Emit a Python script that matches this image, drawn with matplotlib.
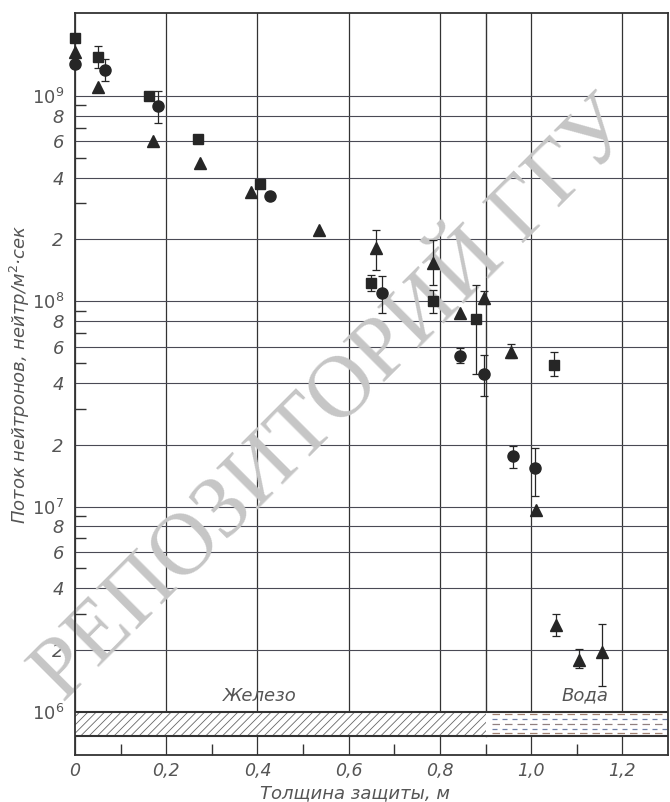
import numpy as np
import matplotlib
matplotlib.use('Agg')
import matplotlib.pyplot as plt
from matplotlib.patches import Rectangle

plt.rcParams['font.family'] = ['DejaVu Sans']
plt.rcParams['mathtext.fontset'] = 'dejavusans'
plt.rcParams['hatch.linewidth'] = 0.6

# ---------------- data ----------------
sq_x = [0.0, 0.05, 0.163, 0.27, 0.405, 0.648, 0.785, 0.878, 1.05]
sq_y = [1.92e9, 1.55e9, 1.0e9, 6.2e8, 3.73e8, 1.23e8, 1.0e8, 8.2e7, 4.9e7]
sq_lo = [np.nan, 1.37e9, np.nan, np.nan, np.nan, 1.12e8, 8.8e7, 4.43e7, 4.33e7]
sq_hi = [np.nan, 1.75e9, np.nan, np.nan, np.nan, 1.34e8, 1.13e8, 1.2e8, 5.67e7]

ci_x = [0.0, 0.065, 0.183, 0.428, 0.672, 0.844, 0.897, 0.96, 1.009]
ci_y = [1.43e9, 1.34e9, 8.94e8, 3.26e8, 1.1e8, 5.42e7, 4.43e7, 1.76e7, 1.54e7]
ci_lo = [np.nan, 1.18e9, 7.4e8, np.nan, 8.77e7, 5.0e7, 3.46e7, 1.54e7, 1.13e7]
ci_hi = [np.nan, 1.51e9, 1.06e9, np.nan, 1.33e8, 5.9e7, 5.47e7, 1.97e7, 1.93e7]

tr_x = [0.0, 0.05, 0.172, 0.274, 0.386, 0.535, 0.659, 0.785, 0.844, 0.897,
        0.956, 1.01, 1.055, 1.105, 1.156]
tr_y = [1.64e9, 1.11e9, 6.0e8, 4.72e8, 3.4e8, 2.22e8, 1.82e8, 1.54e8, 8.8e7,
        1.04e8, 5.67e7, 9.6e6, 2.65e6, 1.79e6, 1.96e6]
tr_lo = [np.nan, np.nan, np.nan, np.nan, np.nan, np.nan, 1.42e8, 1.2e8, np.nan,
         9.7e7, 5.3e7, np.nan, 2.34e6, 1.64e6, 1.34e6]
tr_hi = [np.nan, np.nan, np.nan, np.nan, np.nan, np.nan, 2.22e8, 1.99e8, np.nan,
         1.12e8, 6.2e7, np.nan, 3.0e6, 2.02e6, 2.68e6]

x_ticks = [0.0, 0.2, 0.4, 0.6, 0.8, 1.0, 1.2]
x_tick_labels = ['0', '0,2', '0,4', '0,6', '0,8', '1,0', '1,2']
x_minor = [0.1, 0.3, 0.5, 0.7, 0.9, 1.1]
decades = [6, 7, 8]
mantissas = [1, 2, 4, 6, 8]
minor_mant = [3, 5, 7, 9]

iron_end = 0.9
band_lo, band_hi = 7.64e5, 1.0e6

x_label = 'Толщина защиты, м'
y_label = 'Поток нейтронов, нейтр/м$^2$·сек'
iron_text = 'Железо'
water_text = 'Вода'
watermark = 'РЕПОЗИТОРИЙ ГГУ'

# ---------------- figure ----------------
fig = plt.figure(figsize=(6.7, 8.02), dpi=100)
ax = fig.add_axes([75/670, 47/802, 593/670, 742/802])
ax.set_yscale('log')
ax.set_xlim(0, 1.3)
ax.set_ylim(10**5.79, 10**9.404)

txtc = '#555555'
gridc = '#4a4a55'
inkc = '#262626'

# y ticks
yt, ytl = [], []
for k in decades:
    for m in mantissas:
        yt.append(m * 10.0**k)
        ytl.append(r'$\mathit{10}^{\mathit{%d}}$' % k if m == 1 else str(m))
yt.append(1e9)
ytl.append(r'$\mathit{10}^{\mathit{9}}$')
ymin = [m * 10.0**k for k in decades for m in minor_mant]
ax.set_yticks(yt)
ax.set_yticklabels(ytl, fontstyle='italic', color=txtc, fontsize=13)
ax.set_yticks(ymin, minor=True)
ax.yaxis.set_minor_formatter(plt.NullFormatter())

ax.set_xticks(x_ticks)
ax.set_xticklabels(x_tick_labels, fontstyle='italic', color=txtc, fontsize=12.5)
ax.set_xticks(x_minor, minor=True)

ax.tick_params(which='major', length=0, pad=8)
ax.tick_params(axis='x', which='major', pad=5)
ax.tick_params(which='minor', direction='in', length=8, width=1.0, color='#333333')

ax.grid(True, which='major', axis='y', color=gridc, lw=0.8, zorder=1)
ax.grid(True, which='major', axis='x', color='#333333', lw=0.9, zorder=1)
ax.set_axisbelow(True)

for s in ax.spines.values():
    s.set_linewidth(1.3)
    s.set_color('#333333')

# boundary line iron / water
ax.plot([iron_end, iron_end], [band_lo, ax.get_ylim()[1]], color='#333333', lw=1.0, zorder=1)

# band
ax.add_patch(Rectangle((0, band_lo), iron_end, band_hi - band_lo, facecolor='white',
                       edgecolor='#666666', linewidth=0, hatch='////', zorder=1.5))
ax.add_patch(Rectangle((iron_end, band_lo), 1.3 - iron_end, band_hi - band_lo,
                       facecolor='white', edgecolor='none', zorder=1.5))
ax.axhline(band_hi, color='#333333', lw=1.5, zorder=2)
ax.axhline(band_lo, color='#333333', lw=1.5, zorder=2)
lb, hb = np.log10(band_lo), np.log10(band_hi)
fr = [0.08, 0.3, 0.5, 0.7, 0.88]
cols = ['#a08070', '#7080a8', '#908080', '#7080a8', '#a08070']
for i, f in enumerate(fr):
    yy = 10**(hb - f * (hb - lb))
    ln, = ax.plot([iron_end + 0.015, 1.3], [yy, yy], color=cols[i], lw=0.9,
                  dash_capstyle='butt', zorder=2)
    ln.set_dashes((6, 4) if i % 2 == 0 else (4, 4))

ax.text(0.405, 1.2e6, iron_text, ha='center', va='center', fontsize=13,
        fontstyle='italic', color=txtc)
ax.text(1.118, 1.2e6, water_text, ha='center', va='center', fontsize=13,
        fontstyle='italic', color=txtc)

# watermark
ax.text(0.5, 0.5, watermark, transform=fig.transFigure, rotation=45,
        ha='center', va='center', rotation_mode='anchor', fontsize=63,
        family='Liberation Serif', color='#c6c6c6', zorder=2.5)

# data
def draw(xs, ys, lo, hi, marker, ms):
    xs = np.array(xs); ys = np.array(ys); lo = np.array(lo); hi = np.array(hi)
    m = ~np.isnan(lo)
    ax.errorbar(xs[m], ys[m], yerr=[ys[m] - lo[m], hi[m] - ys[m]], fmt='none',
                ecolor=inkc, elinewidth=0.9, capsize=3, capthick=0.9, zorder=3)
    ax.plot(xs, ys, linestyle='none', marker=marker, ms=ms, color=inkc,
            mec=inkc, zorder=4, clip_on=False)

draw(sq_x, sq_y, sq_lo, sq_hi, 's', 7.5)
draw(ci_x, ci_y, ci_lo, ci_hi, 'o', 8)
draw(tr_x, tr_y, tr_lo, tr_hi, '^', 8.5)

ax.set_xlabel(x_label, fontsize=13, fontstyle='italic', color=txtc)
ax.xaxis.set_label_coords(0.472, -0.039)
ax.set_ylabel(y_label, fontsize=13, fontstyle='italic', color=txtc)
ax.yaxis.set_label_coords(-0.072, 0.513)

fig.savefig('out.png', dpi=100)
